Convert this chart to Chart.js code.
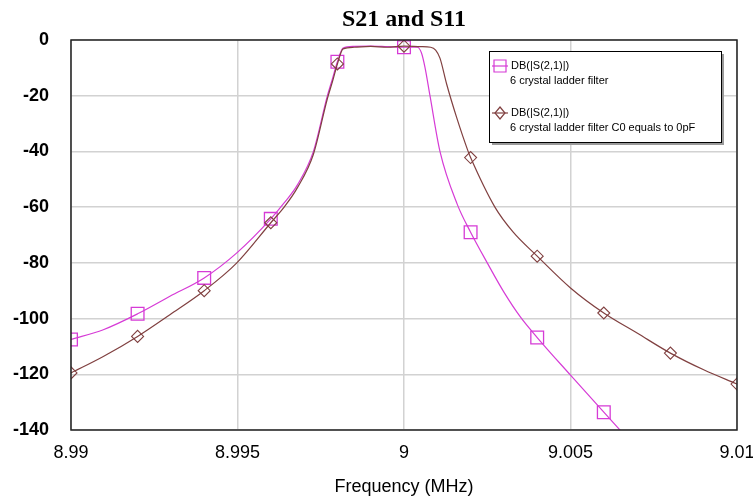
<!DOCTYPE html>
<html lang="en">

<head>
    <meta charset="UTF-8">
    <title>S21 and S11</title>
    <script src="https://cdn.jsdelivr.net/npm/chart.js"></script>
    <style>
        body {
            background-color: #ffffff;
            margin: 0;
            padding: 0;
        }

        #wrap {
            width: 753px;
            height: 498px;
            position: relative;
        }
    </style>
</head>

<body>
    <div id="wrap"><canvas id="filterChart"></canvas></div>

    <script>
        // 6 crystal ladder filter (normal C0)
        const freqA = [8.99, 8.99097, 8.992, 8.99297, 8.994, 8.99498, 8.996, 8.9964, 8.9968, 8.99728, 8.9977, 8.99785, 8.998,
            8.99817, 8.9985, 8.999, 8.9995, 9.0, 9.0004, 9.00052, 9.00063, 9.00078, 9.00108, 9.0016, 9.002, 9.0025,
            9.003, 9.0035, 9.004, 9.005, 9.006, 9.0066];
        const s21A = [-107.5, -104, -98.3, -92, -85.4, -76.4, -64.2, -58.5, -52, -40, -20, -14, -7.8,
            -2.9, -2.3, -2.2, -2.4, -2.6, -2.6, -4.5, -9.8, -20, -40, -59, -69, -80,
            -90.5, -99.5, -106.8, -120.3, -133.6, -141.5];

        // 6 crystal ladder filter, C0 = 0 pF
        const freqB = [8.99, 8.99097, 8.992, 8.99297, 8.994, 8.99498, 8.996, 8.9964, 8.9968, 8.99728, 8.9977, 8.99785, 8.998,
            8.99817, 8.9985, 8.999, 8.9995, 9.0, 9.0005, 9.0008, 9.00095, 9.00108, 9.00128, 9.00158, 9.00192, 9.002, 9.00273,
            9.00328, 9.004, 9.005, 9.006, 9.007, 9.008, 9.009, 9.01];
        const s21B = [-119.5, -113.6, -106.4, -98.6, -90, -80, -65.6, -60, -53, -41, -21, -15, -8.6,
            -3.2, -2.6, -2.3, -2.6, -2.2, -2.4, -2.6, -3.6, -6.5, -15.8, -27.8, -39.8, -42.2, -60,
            -69, -77.6, -89, -98, -105.2, -112.4, -118.4, -123.5];

        const markersA = [8.99, 8.992, 8.994, 8.996, 8.998, 9.0, 9.002, 9.004, 9.006];
        const markersB = [8.99, 8.992, 8.994, 8.996, 8.998, 9.0, 9.002, 9.004, 9.006, 9.008, 9.01];

        const xTickValues = [8.99, 8.995, 9.0, 9.005, 9.01];
        const xTickLabels = ['8.99', '8.995', '9', '9.005', '9.01'];

        const legendItems = [
            { line1: 'DB(|S(2,1)|)', line2: '6 crystal ladder filter', color: '#d63bd6', style: 'square' },
            { line1: 'DB(|S(2,1)|)', line2: '6 crystal ladder filter C0 equals to 0pF', color: '#804040', style: 'diamond' }
        ];

        const toPoints = (xs, ys) => xs.map((x, i) => ({ x: x, y: ys[i] }));
        const isMarker = (list, x) => list.some(m => Math.abs(m - x) < 1e-7);

        // title centred over the plot, plus frame and legend box
        const decorations = {
            id: 'decorations',
            afterDraw(chart) {
                const ctx = chart.ctx;
                const a = chart.chartArea;
                ctx.save();

                ctx.fillStyle = '#000000';
                ctx.font = 'bold 24px "Liberation Serif", "Times New Roman", serif';
                ctx.textAlign = 'center';
                ctx.textBaseline = 'middle';
                ctx.fillText('S21 and S11', (a.left + a.right) / 2, 20);

                ctx.strokeStyle = '#222222';
                ctx.lineWidth = 1.5;
                ctx.strokeRect(a.left, a.top, a.right - a.left, a.bottom - a.top);

                // legend
                const lx = a.right - 248, ly = a.top + 11, lw = 232, lh = 91;
                ctx.fillStyle = '#9a9a9a';
                ctx.fillRect(lx + 3, ly + 3, lw, lh);
                ctx.fillStyle = '#ffffff';
                ctx.fillRect(lx, ly, lw, lh);
                ctx.strokeStyle = '#000000';
                ctx.lineWidth = 1;
                ctx.strokeRect(lx + 0.5, ly + 0.5, lw, lh);

                ctx.font = '11px "Liberation Sans", Arial, sans-serif';
                ctx.textAlign = 'left';
                legendItems.forEach((it, i) => {
                    const cy = ly + 15 + i * 47;
                    ctx.strokeStyle = it.color;
                    ctx.lineWidth = 1.2;
                    ctx.beginPath();
                    ctx.moveTo(lx + 3, cy);
                    ctx.lineTo(lx + 19, cy);
                    ctx.stroke();
                    ctx.beginPath();
                    if (it.style === 'square') {
                        ctx.rect(lx + 5, cy - 6, 12, 12);
                    } else {
                        ctx.moveTo(lx + 11, cy - 6);
                        ctx.lineTo(lx + 16, cy);
                        ctx.lineTo(lx + 11, cy + 6);
                        ctx.lineTo(lx + 6, cy);
                        ctx.closePath();
                    }
                    ctx.stroke();
                    ctx.fillStyle = '#000000';
                    ctx.fillText(it.line1, lx + 22, cy);
                    ctx.fillText(it.line2, lx + 21, cy + 15);
                });
                ctx.restore();
            }
        };

        const ctx = document.getElementById('filterChart').getContext('2d');

        new Chart(ctx, {
            type: 'line',
            data: {
                datasets: [
                    {
                        label: '6 crystal ladder filter',
                        data: toPoints(freqA, s21A),
                        borderColor: '#d63bd6',
                        borderWidth: 1.2,
                        cubicInterpolationMode: 'monotone',
                        pointStyle: 'rect',
                        pointRadius: c => isMarker(markersA, c.raw.x) ? 9 : 0,
                        pointBorderColor: '#d63bd6',
                        pointBackgroundColor: 'rgba(0,0,0,0)',
                        pointBorderWidth: 1.3,
                        order: 1
                    },
                    {
                        label: '6 crystal ladder filter C0 equals to 0pF',
                        data: toPoints(freqB, s21B),
                        borderColor: '#804040',
                        borderWidth: 1.2,
                        cubicInterpolationMode: 'monotone',
                        pointStyle: 'rectRot',
                        pointRadius: c => isMarker(markersB, c.raw.x) ? 6 : 0,
                        pointBorderColor: '#804040',
                        pointBackgroundColor: 'rgba(0,0,0,0)',
                        pointBorderWidth: 1.1,
                        order: 0
                    }
                ]
            },
            options: {
                responsive: true,
                maintainAspectRatio: false,
                animation: false,
                layout: { padding: { top: 40, right: 16, left: 0, bottom: 0 } },
                plugins: {
                    legend: { display: false },
                    tooltip: { enabled: false },
                    title: { display: false }
                },
                scales: {
                    x: {
                        type: 'linear',
                        min: 8.99,
                        max: 9.01,
                        afterFit: s => { s.height = 68; s.paddingLeft = 0; s.paddingRight = 0; },
                        afterBuildTicks: s => { s.ticks = xTickValues.map(v => ({ value: v })); },
                        ticks: {
                            color: '#000000',
                            padding: 12,
                            maxRotation: 0,
                            font: { family: '"Liberation Sans", Arial, sans-serif', size: 18 },
                            callback: (v) => {
                                const i = xTickValues.findIndex(t => Math.abs(t - v) < 1e-7);
                                return i >= 0 ? xTickLabels[i] : '';
                            }
                        },
                        grid: { color: '#d2d2d2', lineWidth: 1.5, drawTicks: false },
                        border: { display: false },
                        title: {
                            display: true,
                            text: 'Frequency (MHz)',
                            color: '#000000',
                            padding: { top: 0, bottom: 0 },
                            font: { family: '"Liberation Sans", Arial, sans-serif', size: 18 }
                        }
                    },
                    y: {
                        type: 'linear',
                        min: -140,
                        max: 0,
                        afterFit: s => { s.width = 71; s.paddingTop = 0; s.paddingBottom = 0; },
                        ticks: {
                            stepSize: 20,
                            color: '#000000',
                            padding: 22,
                            font: { family: '"Liberation Sans", Arial, sans-serif', size: 18, weight: 'bold' },
                            callback: v => String(v)
                        },
                        grid: { color: '#d2d2d2', lineWidth: 1.5, drawTicks: false },
                        border: { display: false }
                    }
                }
            },
            plugins: [decorations]
        });
    </script>
</body>

</html>
